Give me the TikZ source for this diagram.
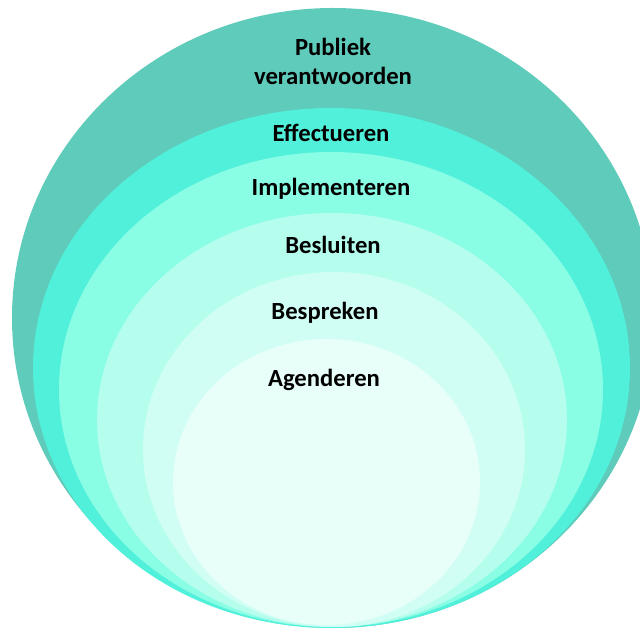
\documentclass[tikz,border=0pt]{standalone}
\usepackage{fontspec}
\setmainfont{Carlito}
\definecolor{c1}{HTML}{5FCBBB}
\definecolor{c2}{HTML}{50F0DA}
\definecolor{c3}{HTML}{8AFDE5}
\definecolor{c4}{HTML}{B5FEEE}
\definecolor{c5}{HTML}{D0FEF4}
\definecolor{c6}{HTML}{E8FEF9}
\tikzset{lbl/.style={font=\fontsize{18.5}{21.75}\selectfont\bfseries, text=black, align=center, inner sep=0pt}}
\begin{document}
\begin{tikzpicture}[x=0.75pt,y=-0.75pt]
\useasboundingbox (0,0) rectangle (640,630);
\clip (0,0) rectangle (640,630);
\fill[c1] (333,318) ellipse [x radius=321, y radius=310];
\fill[c2] (331.5,368) ellipse [x radius=298.5, y radius=260];
\fill[c3] (331,389.5) ellipse [x radius=272, y radius=237.5];
\fill[c4] (332,420) ellipse [x radius=235, y radius=207];
\fill[c5] (334,449.5) ellipse [x radius=191, y radius=177.5];
\fill[c6] (326.5,482) ellipse [x radius=153.5, y radius=143];
\node[lbl] (pub) at (333,61) {Publiek\\verantwoorden};
\node[lbl] (eff) at (331,133) {Effectueren};
\node[lbl] (imp) at (331,189) {Implementeren};
\node[lbl] (bes) at (333,245) {Besluiten};
\node[lbl] (bsp) at (325,313) {Bespreken};
\node[lbl] (age) at (324,380) {Agenderen};
\end{tikzpicture}
\end{document}
